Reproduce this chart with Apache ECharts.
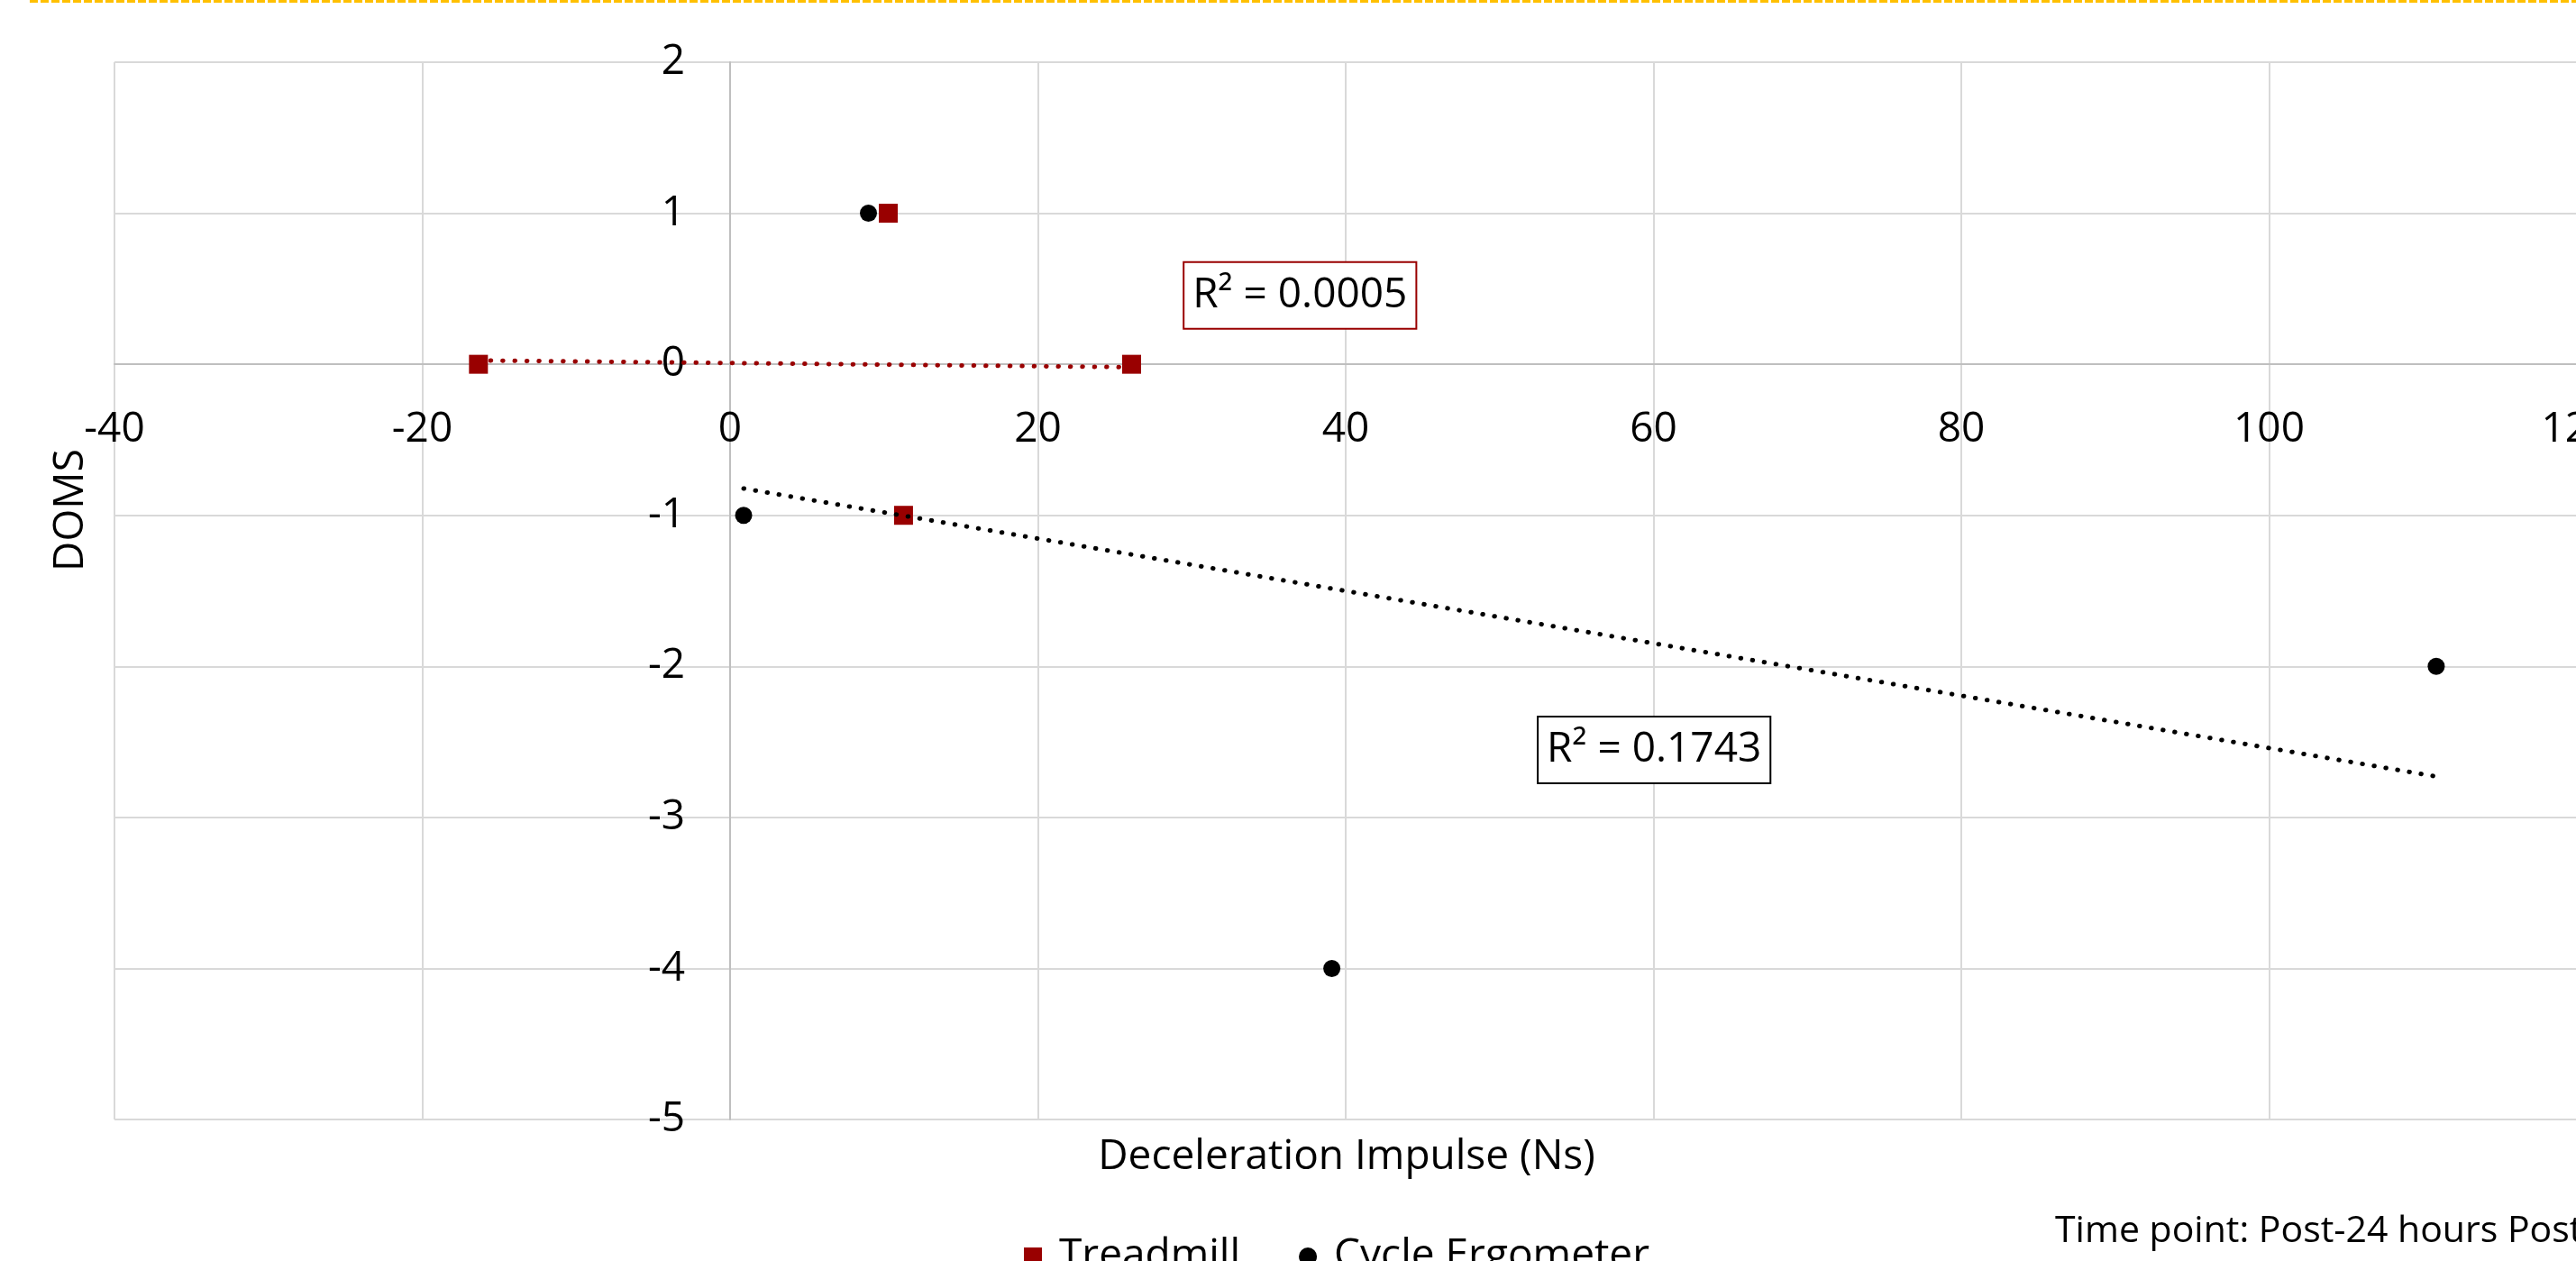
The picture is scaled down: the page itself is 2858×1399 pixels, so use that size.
<!DOCTYPE html>
<html>
<head>
<meta charset="utf-8">
<title>DOMS vs Deceleration Impulse</title>
<script src="https://cdn.jsdelivr.net/npm/echarts@6/dist/echarts.min.js"></script>
<style>
    html, body { margin: 0; padding: 0; background: #fff; }
    #chart { width: 2858px; height: 1399px; }
</style>
</head>
<body>
<div id="chart"></div>
<script>
    // values
    var treadmillX = [-16.35, 10.28, 26.09, 11.27];
    var treadmillY = [0, 1, 0, -1];
    var cycleX = [8.99, 0.88, 39.1, 110.86];
    var cycleY = [1, -1, -4, -2];
    var seriesNames = ['Treadmill', 'Cycle Ergometer'];
    var r2Texts = ['R² = 0.0005', 'R² = 0.1743'];
    var xTickMin = -40, xTickMax = 120, xTickStep = 20;
    var yTickMin = -5, yTickMax = 2, yTickStep = 1;
    var xTitle = 'Deceleration Impulse (Ns)';
    var yTitle = 'DOMS';
    var noteText = 'Time point: Post-24 hours Post';

    var FONT = '"Open Sans", "Noto Sans", sans-serif';
    var RED = '#990000';

    // plot area in pixels (right edge runs just past the canvas, like the original)
    var GRID = { left: 127, top: 69, width: 2732, height: 1173 };
    // axes cross at (0, 0): shift them from the grid edges onto zero
    var zeroX = GRID.left + (0 - xTickMin) / (xTickMax - xTickMin) * GRID.width;
    var zeroY = GRID.top + (yTickMax - 0) / (yTickMax - yTickMin) * GRID.height;

    function pairs(xs, ys) {
        return xs.map(function (x, i) { return [x, ys[i]]; });
    }

    // linear trendline (least squares) between the smallest and largest x
    function trend(xs, ys) {
        var n = xs.length, mx = 0, my = 0, sxy = 0, sxx = 0;
        for (var i = 0; i < n; i++) { mx += xs[i] / n; my += ys[i] / n; }
        for (var j = 0; j < n; j++) {
            sxy += (xs[j] - mx) * (ys[j] - my);
            sxx += (xs[j] - mx) * (xs[j] - mx);
        }
        var b = sxy / sxx, a = my - b * mx;
        var x0 = Math.min.apply(null, xs), x1 = Math.max.apply(null, xs);
        return [[x0, a + b * x0], [x1, a + b * x1]];
    }

    function r2Label(text, color) {
        return {
            show: true,
            position: 'inside',
            formatter: text,
            color: '#000',
            fontSize: 46,
            fontFamily: FONT,
            lineHeight: 50,
            backgroundColor: '#fff',
            borderColor: color,
            borderWidth: 2,
            padding: [11, 9, 11, 9]
        };
    }

    var chart = echarts.init(document.getElementById('chart'));
    var option = {
        animation: false,
        backgroundColor: '#fff',
        textStyle: { fontFamily: FONT },
        grid: {
            left: GRID.left, top: GRID.top, width: GRID.width, height: GRID.height,
            outerBoundsMode: 'none', containLabel: false
        },
        xAxis: {
            type: 'value',
            position: 'bottom',
            offset: zeroY - (GRID.top + GRID.height),
            min: xTickMin, max: xTickMax, interval: xTickStep,
            axisLine: { onZero: false, lineStyle: { color: '#BFBFBF', width: 2 } },
            axisTick: { show: false },
            splitLine: { lineStyle: { color: '#D9D9D9', width: 2 } },
            axisLabel: { margin: 50, fontSize: 46, color: '#000', fontFamily: FONT }
        },
        yAxis: {
            type: 'value',
            position: 'left',
            offset: GRID.left - zeroX,
            min: yTickMin, max: yTickMax, interval: yTickStep,
            axisLine: { show: true, onZero: false, lineStyle: { color: '#BFBFBF', width: 2 } },
            axisTick: { show: false },
            splitLine: { lineStyle: { color: '#D9D9D9', width: 2 } },
            axisLabel: { margin: 50, fontSize: 46, color: '#000', fontFamily: FONT, padding: [7, 0, 0, 0] }
        },
        legend: {
            data: seriesNames,
            left: 1136,
            top: 1371,
            padding: 0,
            itemWidth: 20,
            itemHeight: 20,
            itemGap: 65,
            textStyle: { fontSize: 46, color: '#000', fontFamily: FONT, padding: [9, 0, 0, 14] }
        },
        series: [
            {
                name: seriesNames[0],
                type: 'scatter',
                symbol: 'rect',
                symbolSize: 21,
                itemStyle: { color: RED, opacity: 1 },
                data: pairs(treadmillX, treadmillY),
                z: 3
            },
            {
                name: seriesNames[1],
                type: 'scatter',
                symbol: 'circle',
                symbolSize: 19,
                itemStyle: { color: '#000', opacity: 1 },
                data: pairs(cycleX, cycleY),
                z: 3
            },
            {
                name: 'Treadmill trend',
                type: 'line',
                showSymbol: false,
                silent: true,
                lineStyle: { color: RED, width: 5, type: [0.5, 12.9], cap: 'round' },
                data: trend(treadmillX, treadmillY),
                markPoint: {
                    symbol: 'rect', symbolSize: 1, silent: true,
                    itemStyle: { color: 'rgba(0,0,0,0)' },
                    label: r2Label(r2Texts[0], RED),
                    data: [{ coord: [37.03, 0.456] }]
                },
                z: 4
            },
            {
                name: 'Cycle trend',
                type: 'line',
                showSymbol: false,
                silent: true,
                lineStyle: { color: '#000', width: 5, type: [0.5, 12.7], cap: 'round' },
                data: trend(cycleX, cycleY),
                markPoint: {
                    symbol: 'rect', symbolSize: 1, silent: true,
                    itemStyle: { color: 'rgba(0,0,0,0)' },
                    label: r2Label(r2Texts[1], '#000'),
                    data: [{ coord: [60.04, -2.554] }]
                },
                z: 4
            }
        ],
        graphic: [
            {
                type: 'line',
                shape: { x1: 33, y1: 1.5, x2: 2858, y2: 1.5 },
                style: { stroke: '#FFC000', lineWidth: 3, lineDash: [9, 3] }
            },
            {
                type: 'text',
                x: 1494, y: 1284,
                style: { text: xTitle, fontSize: 46, fontFamily: FONT, fill: '#000', align: 'center', verticalAlign: 'middle' }
            },
            {
                type: 'text',
                x: 79, y: 566,
                rotation: Math.PI / 2,
                style: { text: yTitle, fontSize: 46, fontFamily: FONT, fill: '#000', align: 'center', verticalAlign: 'middle' }
            },
            {
                type: 'text',
                x: 2280, y: 1366,
                style: { text: noteText, fontSize: 41, fontFamily: FONT, fill: '#000', align: 'left', verticalAlign: 'middle' }
            }
        ]
    };
    chart.setOption(option);
</script>
</body>
</html>
